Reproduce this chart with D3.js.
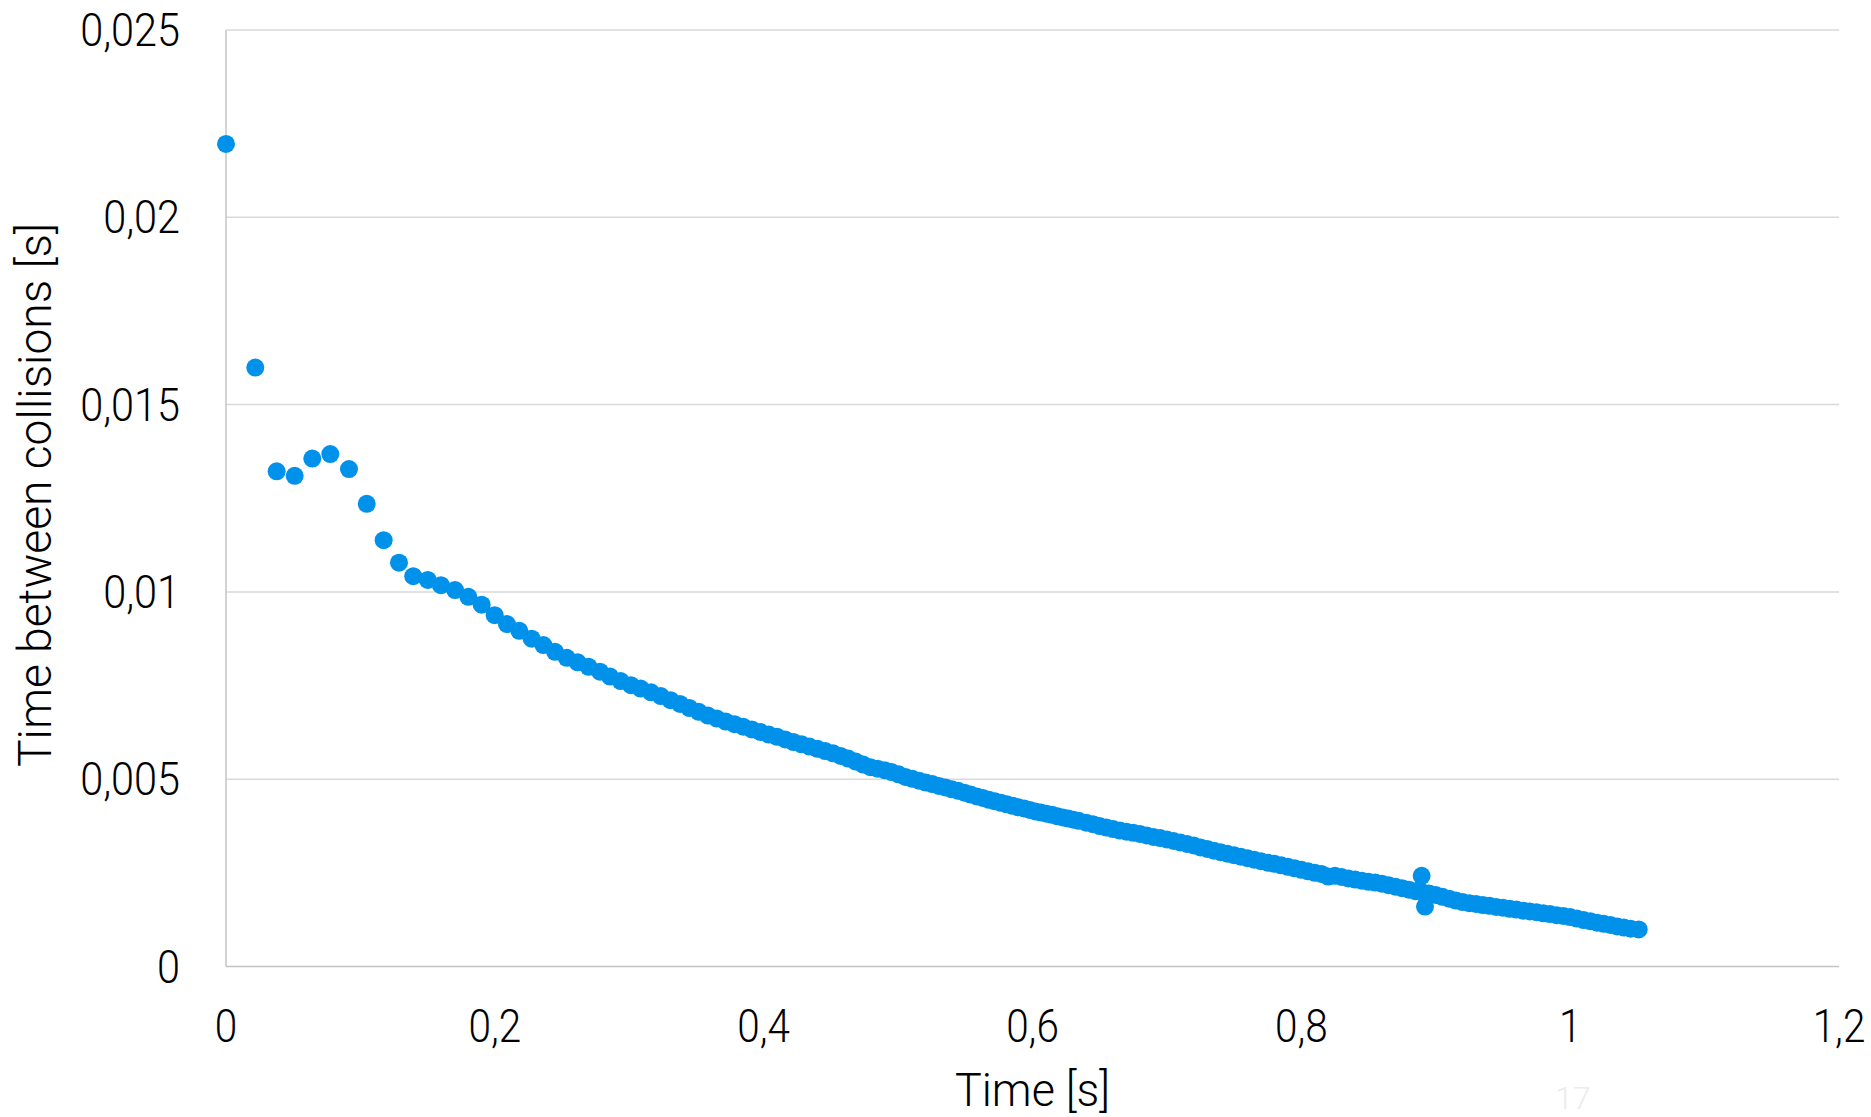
<!DOCTYPE html>
<html>
<head>
<meta charset="utf-8">
<script src="https://cdn.jsdelivr.net/npm/d3@7/dist/d3.min.js"></script>
<style>
  html, body { margin: 0; padding: 0; background: #fff; }
  svg { display: block; }
  text { font-family: Roboto, "Open Sans", sans-serif; font-weight: 300; fill: #000; }
</style>
</head>
<body>
<script>
// time of collision [s]
const timeX = [
  0, 0.0218, 0.0377, 0.0511, 0.0642, 0.0776, 0.0915, 0.1047, 0.1173, 0.1287,
  0.1393, 0.1501, 0.1599, 0.1704, 0.1803, 0.1902, 0.1999, 0.209, 0.2182, 0.2274,
  0.2361, 0.2448, 0.2535, 0.2616, 0.2698, 0.2782, 0.2857, 0.2936, 0.3013, 0.3085,
  0.3162, 0.3235, 0.3307, 0.3378, 0.3448, 0.3517, 0.3585, 0.3652, 0.3718, 0.3783,
  0.3848, 0.3912, 0.3975, 0.4038, 0.41, 0.4161, 0.4222, 0.4282, 0.4341, 0.44,
  0.4458, 0.4516, 0.4573, 0.4629, 0.4685, 0.474, 0.4794, 0.4847, 0.49, 0.4952,
  0.5004, 0.5055, 0.5106, 0.5156, 0.5206, 0.5255, 0.5304, 0.5352, 0.54, 0.5447,
  0.5494, 0.554, 0.5586, 0.5631, 0.5676, 0.5721, 0.5765, 0.5809, 0.5852, 0.5895,
  0.5938, 0.598, 0.6022, 0.6063, 0.6104, 0.6145, 0.6186, 0.6226, 0.6266, 0.6305,
  0.6344, 0.64, 0.645, 0.65, 0.655, 0.66, 0.665, 0.67, 0.675, 0.68,
  0.685, 0.69, 0.695, 0.7, 0.705, 0.71, 0.715, 0.72, 0.725, 0.73,
  0.735, 0.74, 0.745, 0.75, 0.755, 0.76, 0.765, 0.77, 0.775, 0.78,
  0.785, 0.79, 0.795, 0.8, 0.805, 0.81, 0.815, 0.82, 0.825, 0.83,
  0.835, 0.84, 0.845, 0.85, 0.855, 0.86, 0.865, 0.87, 0.875, 0.88,
  0.885, 0.8895, 0.89, 0.892, 0.895, 0.9, 0.905, 0.91, 0.915, 0.92,
  0.925, 0.93, 0.935, 0.94, 0.945, 0.95, 0.955, 0.96, 0.965, 0.97,
  0.975, 0.98, 0.985, 0.99, 0.995, 1, 1.005, 1.01, 1.015, 1.02,
  1.025, 1.03, 1.035, 1.04, 1.045, 1.051
]
// time between collisions [s]
const gapY = [
  0.02196, 0.01599, 0.01322, 0.0131, 0.01356, 0.01368, 0.01328, 0.01235, 0.01138, 0.01078,
  0.01042, 0.01032, 0.01018, 0.01005, 0.00987, 0.00966, 0.00938, 0.00914, 0.00896, 0.00875,
  0.00858, 0.0084, 0.00824, 0.00812, 0.008, 0.00787, 0.00774, 0.00762, 0.00751, 0.00742,
  0.00732, 0.00722, 0.00711, 0.00701, 0.0069, 0.0068, 0.0067, 0.00662, 0.00654, 0.00647,
  0.0064, 0.00633, 0.00626, 0.00619, 0.00613, 0.00606, 0.00599, 0.00593, 0.00587, 0.00581,
  0.00575, 0.00569, 0.00562, 0.00555, 0.00547, 0.00539, 0.00532, 0.00528, 0.00524, 0.00519,
  0.00513, 0.00506, 0.00501, 0.00496, 0.00491, 0.00487, 0.00482, 0.00478, 0.00473, 0.00469,
  0.00464, 0.00459, 0.00454, 0.0045, 0.00445, 0.00441, 0.00437, 0.00433, 0.00429, 0.00425,
  0.00422, 0.00418, 0.00414, 0.00411, 0.00408, 0.00405, 0.00401, 0.00398, 0.00395, 0.00392,
  0.00389, 0.00384, 0.0038, 0.00375, 0.00371, 0.00367, 0.00363, 0.0036, 0.00357, 0.00354,
  0.0035, 0.00346, 0.00343, 0.00339, 0.00335, 0.00331, 0.00327, 0.00323, 0.00318, 0.00314,
  0.00309, 0.00305, 0.00301, 0.00297, 0.00293, 0.00289, 0.00285, 0.00281, 0.00277, 0.00274,
  0.0027, 0.00266, 0.00262, 0.00258, 0.00254, 0.0025, 0.00247, 0.0024, 0.00242, 0.00239,
  0.00235, 0.00232, 0.00229, 0.00226, 0.00224, 0.00221, 0.00217, 0.00213, 0.00209, 0.00205,
  0.00201, 0.00242, 0.00198, 0.0016, 0.00195, 0.00191, 0.00186, 0.00181, 0.00176, 0.00172,
  0.00169, 0.00167, 0.00164, 0.00162, 0.00159, 0.00157, 0.00154, 0.00152, 0.00149, 0.00147,
  0.00145, 0.00142, 0.0014, 0.00137, 0.00135, 0.00132, 0.00128, 0.00124, 0.00121, 0.00117,
  0.00114, 0.00111, 0.00107, 0.00104, 0.00101, 0.00099
]

const xTicks = [0, 0.2, 0.4, 0.6, 0.8, 1, 1.2]
const xTickLabels = ["0", "0,2", "0,4", "0,6", "0,8", "1", "1,2"]
const yTicks = [0, 0.005, 0.01, 0.015, 0.02, 0.025]
const yTickLabels = ["0", "0,005", "0,01", "0,015", "0,02", "0,025"]

const W = 1871, H = 1117
const margin = { top: 30, right: 32, bottom: 150.5, left: 226 }
const innerW = W - margin.left - margin.right
const innerH = H - margin.top - margin.bottom

const svg = d3.select("body").append("svg")
  .attr("width", W).attr("height", H)

const x = d3.scaleLinear().domain([0, 1.2]).range([0, innerW])
const y = d3.scaleLinear().domain([0, 0.025]).range([innerH, 0])

const g = svg.append("g").attr("transform", `translate(${margin.left},${margin.top})`)

// horizontal gridlines
g.selectAll(".grid").data(yTicks.filter(d => d > 0)).enter().append("line")
  .attr("x1", 0).attr("x2", innerW)
  .attr("y1", d => y(d)).attr("y2", d => y(d))
  .attr("stroke", "#d9d9d9").attr("stroke-width", 1.5)

// axis lines
g.append("line").attr("x1", 0).attr("x2", 0).attr("y1", 0).attr("y2", innerH)
  .attr("stroke", "#c4c4c4").attr("stroke-width", 1.5)
g.append("line").attr("x1", 0).attr("x2", innerW).attr("y1", innerH).attr("y2", innerH)
  .attr("stroke", "#c4c4c4").attr("stroke-width", 1.5)

// squeeze text to a condensed look
function condense(sel, k) {
  sel.each(function() {
    const w = this.getComputedTextLength()
    d3.select(this).attr("textLength", w * k).attr("lengthAdjust", "spacingAndGlyphs")
  })
}

// y tick labels
g.selectAll(".ylab").data(yTicks).enter().append("text")
  .attr("x", -46).attr("y", d => y(d) + 16)
  .attr("text-anchor", "end").attr("font-size", 46)
  .text((d, i) => yTickLabels[i])
  .call(condense, 0.9)

// x tick labels
g.selectAll(".xlab").data(xTicks).enter().append("text")
  .attr("x", d => x(d)).attr("y", innerH + 75.5)
  .attr("text-anchor", "middle").attr("font-size", 46)
  .text((d, i) => xTickLabels[i])
  .call(condense, 0.88)

// points
const pts = timeX.map((t, i) => ({ t, v: gapY[i] }))
g.selectAll(".dot").data(pts).enter().append("circle")
  .attr("cx", d => x(d.t)).attr("cy", d => y(d.v))
  .attr("r", 9).attr("fill", "#0091ea")

// axis titles
svg.append("text")
  .attr("x", margin.left + innerW / 2).attr("y", 1106)
  .attr("text-anchor", "middle").attr("font-size", 47)
  .attr("textLength", 155).attr("lengthAdjust", "spacingAndGlyphs")
  .text("Time [s]")

svg.append("text")
  .attr("transform", `translate(51,495) rotate(-90)`)
  .attr("text-anchor", "middle").attr("font-size", 47)
  .attr("textLength", 544).attr("lengthAdjust", "spacingAndGlyphs")
  .text("Time between collisions [s]")

// faint page number
svg.append("text")
  .attr("x", 1573).attr("y", 1109)
  .attr("text-anchor", "middle").attr("font-size", 32)
  .style("fill", "#ececec")
  .text("17")
</script>
</body>
</html>
